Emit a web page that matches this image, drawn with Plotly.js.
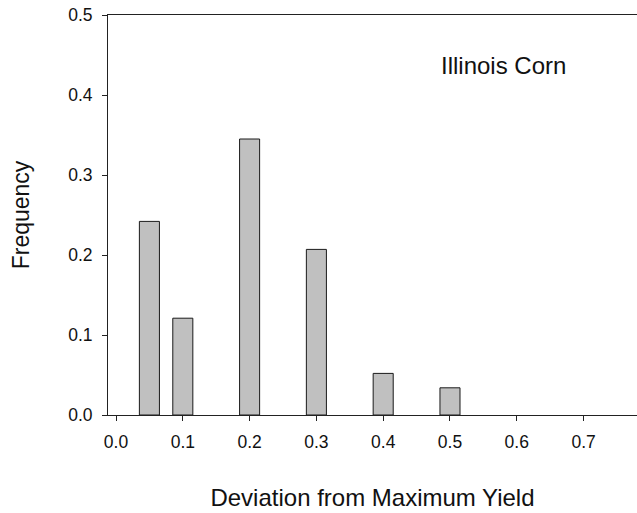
<!DOCTYPE html>
<html>
<head>
<meta charset="utf-8">
<script src="https://cdn.plot.ly/plotly-3.0.1.min.js"></script>
<style>html,body{margin:0;padding:0;background:#fff;}</style>
</head>
<body>
<div id="chart" style="width:637px;height:513px;"></div>
<script>
// Data
const deviation = [0.05, 0.1, 0.2, 0.3, 0.4, 0.5];
const frequency = [0.242, 0.121, 0.345, 0.207, 0.052, 0.034];
const xTicks = [0, 0.1, 0.2, 0.3, 0.4, 0.5, 0.6, 0.7];
const xTickLabels = ['0.0', '0.1', '0.2', '0.3', '0.4', '0.5', '0.6', '0.7'];
const yTicks = [0, 0.1, 0.2, 0.3, 0.4, 0.5];
const yTickLabels = ['0.0', '0.1', '0.2', '0.3', '0.4', '0.5'];
const panelLabel = 'Illinois Corn';

const font = 'Liberation Sans, Arial, sans-serif';

const trace = {
  type: 'bar',
  x: deviation,
  y: frequency,
  width: 0.03,
  marker: {color: '#c0c0c0', line: {color: '#1a1a1a', width: 1}},
  hoverinfo: 'x+y'
};

const layout = {
  width: 637,
  height: 513,
  margin: {l: 108, r: 0, t: 15, b: 98, pad: 0},
  paper_bgcolor: '#fff',
  plot_bgcolor: '#fff',
  showlegend: false,
  font: {family: font, color: '#111', size: 16},
  xaxis: {
    range: [-0.012, 0.78],
    tickvals: xTicks,
    ticktext: xTickLabels,
    ticks: 'outside',
    ticklen: 5,
    tickwidth: 1,
    tickcolor: '#222',
    showline: true,
    linecolor: '#222',
    linewidth: 1,
    mirror: true,
    showgrid: false,
    zeroline: false,
    ticklabelstandoff: 6,
    tickfont: {family: font, size: 17.5, color: '#111'},
    title: {text: 'Deviation from Maximum Yield', font: {family: font, size: 24, color: '#111'}, standoff: 38}
  },
  yaxis: {
    range: [0, 0.5],
    tickvals: yTicks,
    ticktext: yTickLabels,
    ticks: 'outside',
    ticklen: 5,
    tickwidth: 1,
    tickcolor: '#222',
    showline: true,
    linecolor: '#222',
    linewidth: 1,
    mirror: false,
    showgrid: false,
    zeroline: false,
    ticklabelstandoff: 6,
    tickfont: {family: font, size: 17.5, color: '#111'},
    title: {text: 'Frequency', font: {family: font, size: 23, color: '#111'}, standoff: 32}
  },
  annotations: [{
    text: panelLabel,
    x: 0.58, y: 0.437,
    xref: 'x', yref: 'y',
    showarrow: false,
    font: {family: font, size: 24, color: '#111'}
  }]
};

Plotly.newPlot('chart', [trace], layout, {displayModeBar: false, staticPlot: true});
</script>
</body>
</html>
